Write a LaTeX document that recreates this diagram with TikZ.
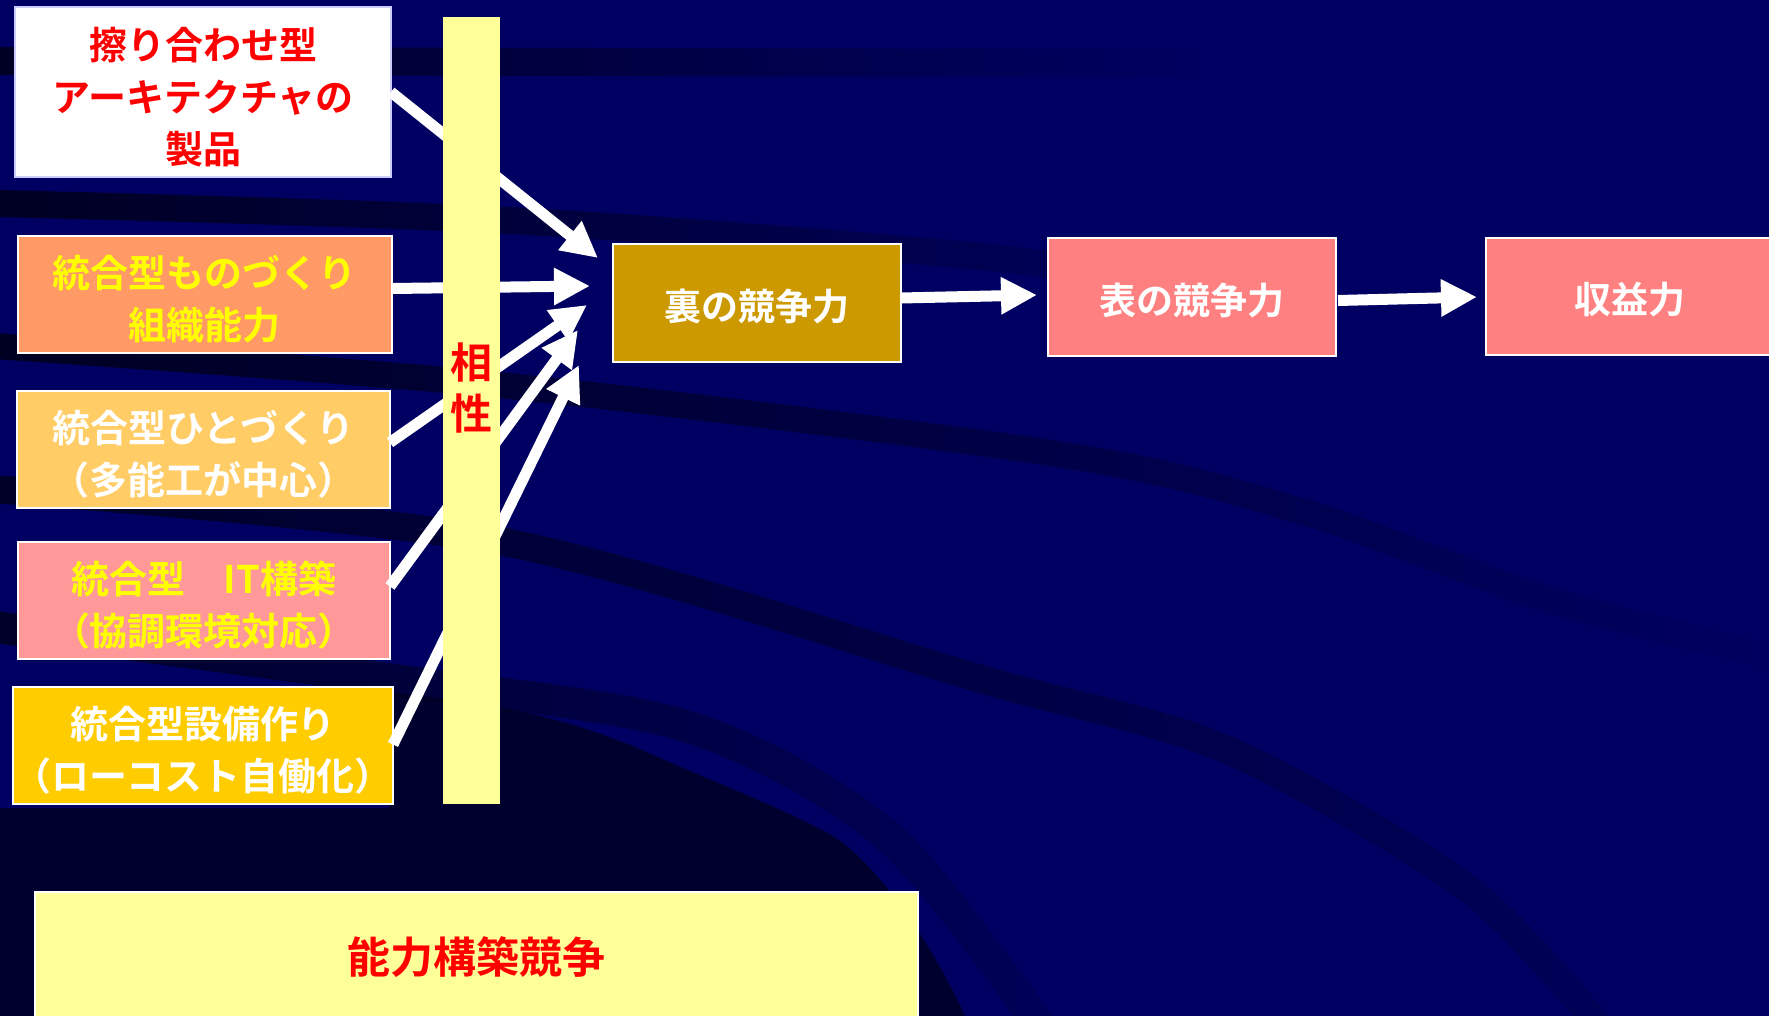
\documentclass[tikz,border=0pt]{standalone}
\usepackage{fontspec}
\newfontfamily\jp{Noto Sans CJK JP}[BoldFont={Noto Sans CJK JP Bold}]
\usetikzlibrary{arrows.meta,calc,fadings}
\definecolor{bgnavy}{RGB}{0,0,98}
\definecolor{banddark}{RGB}{0,0,34}
\definecolor{deepdark}{RGB}{0,0,46}
\definecolor{cwhitebd}{RGB}{204,204,255}
\definecolor{corange}{RGB}{255,153,102}
\definecolor{clorange}{RGB}{255,204,102}
\definecolor{cpink}{RGB}{255,153,153}
\definecolor{cgold}{RGB}{255,204,0}
\definecolor{cpaley}{RGB}{255,255,153}
\definecolor{cura}{RGB}{204,153,0}
\definecolor{csalmon}{RGB}{255,128,128}
\definecolor{cred}{RGB}{255,0,0}
\definecolor{cyel}{RGB}{255,255,0}
\tikzfading[name=bandfadeA, left color=transparent!0, right color=transparent!100]
\tikzfading[name=bandfadeB, left color=transparent!10, right color=transparent!85]
\newcommand\jpstrut{\rule{0pt}{21pt}}
\begin{document}
\begin{tikzpicture}[x=0.5pt,y=-0.5pt,
  box/.style={rectangle, inner sep=0pt, outer sep=0pt, draw=white, line width=0.8pt,
    align=center, font=\jp\bfseries\fontsize{19pt}{26pt}\selectfont},
  flowbox/.style={rectangle, inner sep=0pt, outer sep=0pt, draw=white, line width=0.8pt,
    minimum width=144pt, minimum height=59pt, text=white,
    font=\jp\bfseries\fontsize{18.5pt}{22pt}\selectfont},
  warrow/.style={draw=white, line width=5.5pt, -{Triangle[length=18pt,width=17.5pt]}},
  band/.style={draw=banddark, line cap=butt}
]
\useasboundingbox (0,0) rectangle (1769,1016);
\clip (0,0) rectangle (1769,1016);
% background
\fill[bgnavy] (0,0) rectangle (1769,1016);
\fill[deepdark] (0,808) -- (389,808) -- (391,693)
  .. controls (520,705) and (580,725) .. (635,747)
  .. controls (720,785) and (800,815) .. (839,840)
  .. controls (880,870) and (930,940) .. (965,1016) -- (0,1016) -- cycle;
\draw[band, line width=14pt, path fading=bandfadeA] (-20,61) -- (1200,63);
\draw[band, line width=13.5pt, path fading=bandfadeA] plot[smooth] coordinates {(-20,203) (500,220) (985,257) (1300,300)};
\draw[band, line width=13pt, path fading=bandfadeA] plot[smooth] coordinates {(-20,345) (500,385) (1066,455) (1309,513) (1552,600) (1790,660)};
\draw[band, line width=14pt, path fading=bandfadeB] plot[smooth] coordinates {(-20,488) (500,541) (985,680) (1228,750) (1471,891) (1610,1040)};
\draw[band, line width=16pt, path fading=bandfadeB] plot[smooth] coordinates {(-20,625) (380,678) (686,726) (890,838) (1050,1040)};

% left boxes
\node[box, fill=white, draw=cwhitebd, text=cred, minimum width=188pt, minimum height=85pt] (b1) at (203,92) {\jpstrut 擦り合わせ型\\アーキテクチャの\\製品};
\node[box, fill=corange, text=cyel, minimum width=187pt, minimum height=58.5pt] (b2) at (205,294.5) {\jpstrut 統合型ものづくり\\組織能力};
\node[box, fill=clorange, text=white, minimum width=186.5pt, minimum height=58.5pt] (b3) at (203.5,449.5) {\jpstrut 統合型ひとづくり\\（多能工が中心）};
\node[box, fill=cpink, text=cyel, minimum width=186pt, minimum height=58.5pt] (b4) at (204,600.5) {\jpstrut 統合型　IT構築\\（協調環境対応）};
\node[box, fill=cgold, text=white, minimum width=186pt, minimum height=58.5pt] (b5) at (203,745.5) {\jpstrut 統合型設備作り\\（ローコスト自働化）};

% flow boxes
\node[flowbox, fill=cura] (ura) at (757,303) {\rule{0pt}{19pt}裏の競争力};
\node[flowbox, fill=csalmon] (omote) at (1192,297) {\rule{0pt}{19pt}表の競争力};
\node[flowbox, fill=csalmon, minimum height=58.5pt] (shueki) at (1630,296.5) {\rule{0pt}{19pt}収益力};

% arrow tips
\coordinate (t1) at (598,258);
\coordinate (t2) at (590,286);
\coordinate (t3) at (587,305);
\coordinate (t4) at (578,330);
\coordinate (t5) at (579,365);

\draw[warrow] (b1.east) -- (t1);
\draw[warrow] ($(b2.east)+(0,-6)$) -- (t2);
\draw[warrow] ($(b3.east)+(0,-7)$) -- (t3);
\draw[warrow] ($(b4.east)+(0,-14)$) -- (t4);
\draw[warrow] ($(b5.east)+(0,-1)$) -- (t5);

\draw[warrow] ($(ura.east)+(0,-5)$) -- ($(omote.west)+(-11,-2)$);
\draw[warrow] ($(omote.east)+(2,3.5)$) -- ($(shueki.west)+(-9,0.5)$);

% compatibility bar
\node[rectangle, inner sep=0pt, outer sep=0pt, fill=cpaley, minimum width=28.5pt, minimum height=393.5pt] (bar) at (471.5,410.5) {};
\node[inner sep=0pt, align=center, text=cred, font=\jp\bfseries\fontsize{21pt}{25.5pt}\selectfont] (aisho) at (471,388) {相\\性};

% bottom box
\node[rectangle, inner sep=0pt, outer sep=0pt, fill=cpaley, draw=white, line width=0.8pt, minimum width=441.5pt, minimum height=65pt, text=cred, font=\jp\bfseries\fontsize{21.5pt}{26pt}\selectfont] (noryoku) at (476.5,957) {能力構築競争};
\end{tikzpicture}
\end{document}
